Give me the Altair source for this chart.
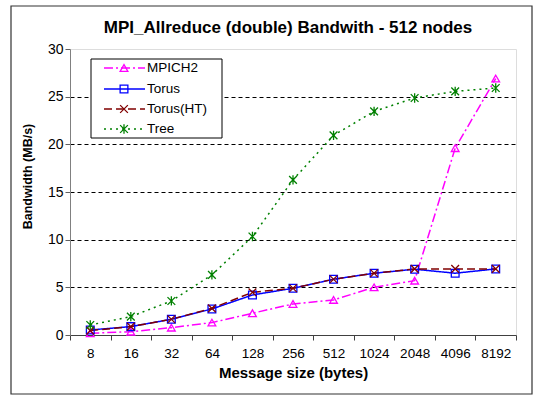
import altair as alt
import pandas as pd

sizes = ["8", "16", "32", "64", "128", "256", "512", "1024", "2048", "4096", "8192"]
series_names = ["MPICH2", "Torus", "Torus(HT)", "Tree"]
mpich2 = [0.18, 0.35, 0.77, 1.3, 2.28, 3.26, 3.68, 5.0, 5.7, 19.6, 26.9]
torus = [0.53, 0.88, 1.65, 2.73, 4.2, 4.9, 5.85, 6.48, 6.9, 6.48, 6.93]
torus_ht = [0.46, 0.88, 1.65, 2.8, 4.48, 4.9, 5.85, 6.48, 6.93, 6.93, 6.93]
tree = [1.05, 1.93, 3.57, 6.3, 10.33, 16.28, 20.94, 23.46, 24.86, 25.56, 25.91]

colors = ["#FF00FF", "#0000FF", "#800000", "#008000"]
dashes = [[9, 3, 2, 3], [1, 0], [8, 4], [2, 4]]
shapes = ["triangle-up", "square", "M-1,-1L1,1M-1,1L1,-1", "M-1,-1L1,1M-1,1L1,-1M0,-1.2L0,1.2"]

rows = []
for name, vals in zip(series_names, [mpich2, torus, torus_ht, tree]):
    for s, v in zip(sizes, vals):
        rows.append({"size": s, "bw": v, "series": name})
df = pd.DataFrame(rows)

FONT = "Liberation Sans"

x_enc = alt.X("size:N", sort=sizes, bandPosition=0.5,
              scale=alt.Scale(type="band", paddingInner=0, paddingOuter=0),
              axis=alt.Axis(title="Message size (bytes)", labelAngle=0, tickBand="extent",
                            labelFontSize=13.5, labelFont=FONT, labelColor="black",
                            titleFont=FONT, titleFontSize=15, titleFontWeight="bold",
                            titleColor="black", tickSize=5, labelPadding=6, titlePadding=6,
                            domainColor="#404040", tickColor="#404040", grid=False))
y_enc = alt.Y("bw:Q", scale=alt.Scale(domain=[0, 30], nice=False),
              axis=alt.Axis(title="Bandwidth (MB/s)", values=[0, 5, 10, 15, 20, 25, 30],
                            labelFontSize=14, labelFont=FONT, labelColor="black",
                            titleFont=FONT, titleFontSize=12.5, titleFontWeight="bold",
                            titleColor="black", tickSize=5, labelPadding=2,
                            titleX=-36, titleY=127,
                            domainColor="#808080", tickColor="#606060",
                            grid=True, gridDash=[4, 3], gridWidth=1,
                            gridColor={"condition": {"test": "datum.value === 30 || datum.value === 0", "value": "transparent"}, "value": "black"}))
color_enc = alt.Color("series:N", scale=alt.Scale(domain=series_names, range=colors), legend=None)

lines = alt.Chart(df).mark_line(strokeWidth=1.5).encode(
    x=x_enc, y=y_enc, color=color_enc,
    strokeDash=alt.StrokeDash("series:N", scale=alt.Scale(domain=series_names, range=dashes), legend=None),
)
points = alt.Chart(df).mark_point(filled=False, strokeWidth=1.3, size=60, opacity=1).encode(
    x=x_enc, y=y_enc, color=color_enc,
    shape=alt.Shape("series:N", scale=alt.Scale(domain=series_names, range=shapes), legend=None),
)

one = pd.DataFrame({"a": [0]})
border = alt.Chart(one).mark_rect(fill="transparent", stroke="#333333", strokeWidth=1.2).encode(
    x=alt.value(-59), x2=alt.value(462), y=alt.value(-43), y2=alt.value(345))

legend_box = alt.Chart(one).mark_rect(fill="white", stroke="black", strokeWidth=1).encode(
    x=alt.value(21), x2=alt.value(152), y=alt.value(10), y2=alt.value(89))
legend_layers = [legend_box]
ys = [19, 40, 60, 80]
for name, c, d, sh, yy in zip(series_names, colors, dashes, shapes, ys):
    legend_layers.append(alt.Chart(one).mark_rule(color=c, strokeDash=d, strokeWidth=1.5).encode(
        x=alt.value(34), x2=alt.value(75), y=alt.value(yy)))
    legend_layers.append(alt.Chart(one).mark_point(filled=False, color=c, shape=sh, size=60,
                                                   strokeWidth=1.3, opacity=1).encode(
        x=alt.value(54), y=alt.value(yy)))
    legend_layers.append(alt.Chart(one).mark_text(text=name, font=FONT, fontSize=13.5, align="left",
                                                  baseline="middle", color="black").encode(
        x=alt.value(77), y=alt.value(yy)))

chart = alt.layer(border, lines, points, *legend_layers).properties(
    width=446, height=286,
    title=alt.TitleParams("MPI_Allreduce (double) Bandwith - 512 nodes", font=FONT, fontSize=17,
                          fontWeight="bold", color="black", anchor="middle", dx=-5, offset=-45,
                          frame="group", baseline="alphabetic"),
    padding={"left": 70, "top": 49, "right": 19, "bottom": 62},
    autosize=alt.AutoSizeParams(type="none"),
).configure_view(stroke="#808080", strokeWidth=1).configure(background="white")

chart.save("out.html", embed_options={"renderer": "svg", "actions": False})
